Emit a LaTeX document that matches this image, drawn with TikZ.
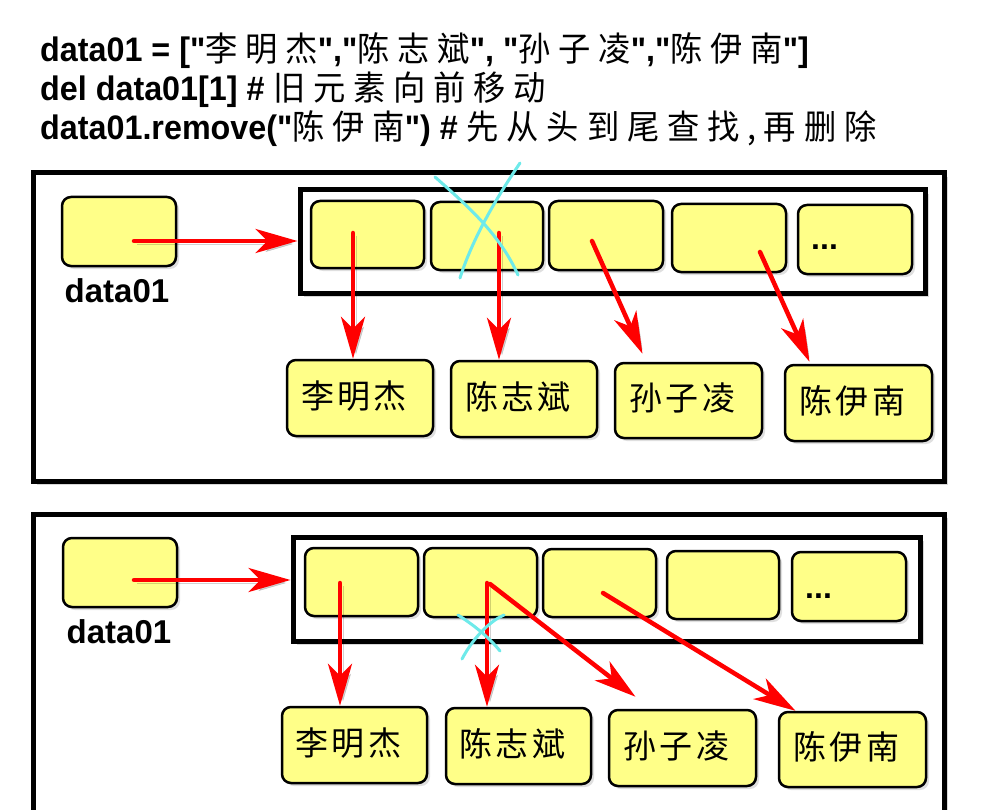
\documentclass[tikz,border=0pt]{standalone}
\usepackage{fontspec}
\setmainfont{Liberation Sans}[Ligatures=TeXOff]
\newfontfamily\cjkh{Noto Sans CJK SC}[LetterSpace=24]
\newfontfamily\cjkn{Noto Sans CJK SC}[LetterSpace=10]
\usetikzlibrary{arrows.meta,shadows,calc}
\definecolor{cellyellow}{HTML}{FFFF88}
\definecolor{arrred}{HTML}{FF0000}
\definecolor{crosscyan}{HTML}{6EEAEA}
\tikzset{
  panel/.style={draw=black, line width=5pt, fill=white, inner sep=0pt,
    drop shadow={shadow xshift=4pt, shadow yshift=-4pt, opacity=0.3}},
  arrbox/.style={draw=black, line width=5pt, fill=white, inner sep=0pt,
    drop shadow={shadow xshift=4pt, shadow yshift=-4pt, opacity=0.3}},
  cell/.style={draw=black, line width=2.5pt, fill=cellyellow, rounded corners=9pt, inner sep=0pt,
    drop shadow={shadow xshift=3pt, shadow yshift=-3pt, opacity=0.25}},
  namebox/.style={cell, font=\cjkn\fontsize{33}{33}\selectfont},
  varlabel/.style={font=\bfseries\fontsize{33}{33}\selectfont, inner sep=0pt},
  dots/.style={font=\bfseries\fontsize{32}{32}\selectfont, inner sep=0pt},
  header/.style={font=\bfseries\fontsize{34}{34}\selectfont, inner sep=0pt, anchor=base west, xscale=0.95, transform shape},
  redarr/.style={draw=arrred, line width=4.5pt, line cap=round, -{Stealth[length=42pt,width=24pt,inset=12pt]},
    preaction={draw=black, opacity=0.18, transform canvas={xshift=3pt,yshift=-3pt}}},
  cross/.style={draw=crosscyan, line width=3pt, line cap=round},
}
% \bx{name}{x1}{y1}{x2}{y2}{style}{text}
\newcommand{\bx}[7]{%
  \pgfmathsetmacro{\bw}{#4-#2}\pgfmathsetmacro{\bh}{#5-#3}%
  \node[#6, minimum width=\bw pt, minimum height=\bh pt] (#1) at ({(#2+#4)/2},{(#3+#5)/2}) {#7};}
\newcommand{\nm}[1]{\raisebox{7pt}{\hspace*{-12pt}#1}}
\newcommand{\ch}[1]{{\cjkh\mdseries\fontsize{34}{34}\selectfont #1}}
\begin{document}
\begin{tikzpicture}[x=1pt,y=-1pt]
\useasboundingbox (0,0) rectangle (987,810);
\clip (0,0) rectangle (987,810);
\fill[white] (0,0) rectangle (987,810);

% header
\node[header] (h1) at (40,62) {data01 = ["\ch{李明杰}","\ch{陈志斌}", "\ch{孙子凌}","\ch{陈伊南}"]};
\node[header] (h2) at (40,101) {del data01[1] \# \ch{旧元素向前移动}};
\node[header] (h3) at (40,140) {data01.remove("\ch{陈伊南}") \# \ch{先从头到尾查找,再删除}};

% ---------------- top panel ----------------
\bx{P1}{33}{173}{944}{481}{panel}{}
\bx{A1}{300}{190}{925}{293}{arrbox}{}
\bx{V1}{62}{197}{176}{266}{cell}{}
\node[varlabel, anchor=base] (L1) at (117,302) {data01};
\bx{c11}{311}{201}{424}{268}{cell}{}
\bx{c12}{431}{202}{543}{270}{cell}{}
\bx{c13}{549}{201}{663}{270}{cell}{}
\bx{c14}{672}{204}{786}{272}{cell}{}
\bx{c15}{798}{205}{912}{274}{cell}{}
\node[dots, anchor=base west] (d1) at (811,250) {...};
\bx{n11}{287}{360}{433}{436}{namebox}{\nm{李明杰}}
\bx{n12}{451}{361}{597}{437}{namebox}{\nm{陈志斌}}
\bx{n13}{615}{363}{762}{438}{namebox}{\nm{孙子凌}}
\bx{n14}{785}{365}{932}{441}{namebox}{\nm{陈伊南}}

\coordinate (s10) at (134,241);
\coordinate (s11) at (353,233);
\coordinate (s12) at (499,233);
\coordinate (s13) at (592,241);
\coordinate (s14) at (760,252);
\draw[redarr] (s10) -- (s10 -| A1.west);
\draw[redarr] (s11) -- (s11 |- n11.north);
\draw[redarr] (s12) -- (s12 |- n12.north);
\draw[redarr] (s13) -- ([xshift=-46pt,yshift=8pt]n13.north);
\draw[redarr] (s14) -- ([xshift=-49pt,yshift=2pt]n14.north);

\draw[cross] (435,177) .. controls (470,208) and (500,235) .. (518,275);
\draw[cross] (460,278) .. controls (472,240) and (495,200) .. (520,163);

% ---------------- bottom panel ----------------
\bx{P2}{33}{514}{944}{840}{panel}{}
\bx{A2}{293}{537}{920}{641}{arrbox}{}
\bx{V2}{63}{538}{177}{607}{cell}{}
\node[varlabel, anchor=base] (L2) at (119,643) {data01};
\bx{c21}{305}{548}{418}{616}{cell}{}
\bx{c22}{424}{548}{537}{617}{cell}{}
\bx{c23}{543}{549}{656}{617}{cell}{}
\bx{c24}{667}{551}{779}{619}{cell}{}
\bx{c25}{792}{552}{906}{621}{cell}{}
\node[dots, anchor=base west] (d2) at (805,598) {...};
\bx{n21}{282}{707}{427}{783}{namebox}{\nm{李明杰}}
\bx{n22}{446}{708}{591}{784}{namebox}{\nm{陈志斌}}
\bx{n23}{609}{710}{756}{786}{namebox}{\nm{孙子凌}}
\bx{n24}{779}{712}{926}{787}{namebox}{\nm{陈伊南}}

\coordinate (s20) at (134,580);
\coordinate (s21) at (340,583);
\coordinate (s22) at (487,583);
\coordinate (s23) at (490,584);
\coordinate (s24) at (603,593);
\draw[redarr] (s20) -- (s20 -| A2.west);
\draw[redarr] (s21) -- (s21 |- n21.north);
\draw[redarr] (s22) -- (s22 |- n22.north);
\draw[redarr] (s23) -- ([xshift=-47pt,yshift=12pt]n23.north);
\draw[redarr] (s24) -- ([xshift=-57pt]n24.north);

\draw[cross] (458,615) .. controls (472,624) and (488,636) .. (500,651);
\draw[cross] (462,659) .. controls (472,640) and (488,622) .. (504,615);
\end{tikzpicture}
\end{document}
